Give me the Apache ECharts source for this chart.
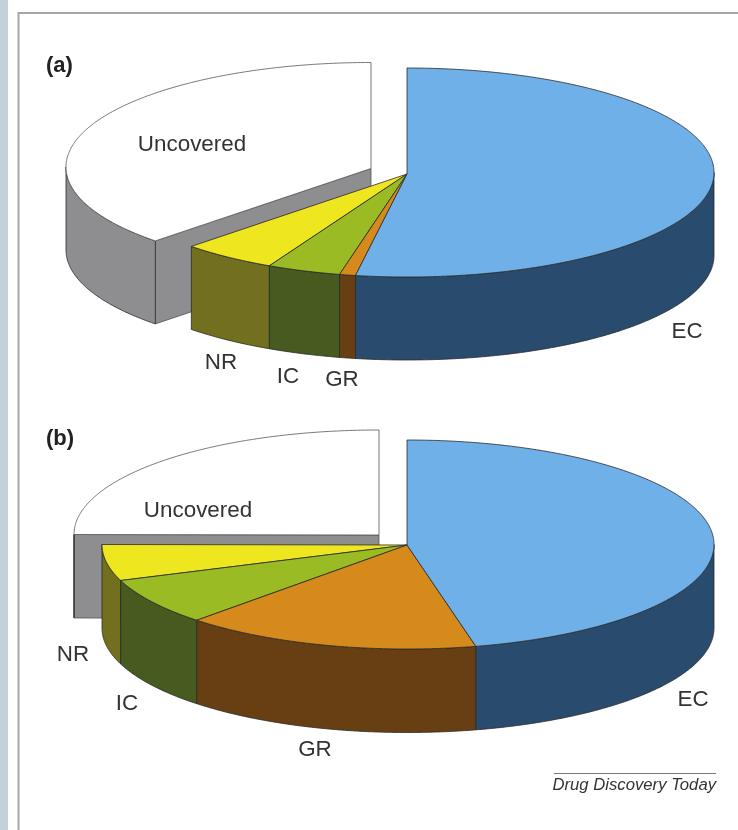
<!DOCTYPE html>
<html>
<head>
<meta charset="utf-8">
<style>html,body{margin:0;padding:0;background:#fff}#chart{width:738px;height:830px}</style>
<script src="https://cdn.jsdelivr.net/npm/echarts@6/dist/echarts.min.js"></script>
</head>
<body>
<div id="chart"></div>
<script>
// Share of each category, in percent, clockwise from twelve o'clock.
const categories = ['EC', 'GR', 'IC', 'NR', 'Uncovered'];
const valuesA = [52.7, 0.85, 3.9, 5.05, 37.5];
const valuesB = [46.4, 15.7, 7.3, 5.6, 25.0];

const topColors = ['#6FB0E8', '#D68A1C', '#9ABB24', '#EEE61E', '#FFFFFF'];
const wallColors = ['#294C6E', '#683F13', '#475A1F', '#72701F', '#8E8E91'];

// Projection of each tilted disc and where its labels sit.
const panels = [
  { values: valuesA, cx: 407, cy: 172.5, hubY: 174, rxRight: 307, rxLeft: 305, ry: 104.5, depth: 83, pull: [-36, -5.5], letter: '(a)', letterAt: [46, 66],
    labelAt: { EC: [687, 332], GR: [342, 380], IC: [288, 377], NR: [221, 363], Uncovered: [192, 145] } },
  { values: valuesB, cx: 407, cy: 544.5, hubY: 545, rxRight: 307, rxLeft: 305, ry: 104.5, depth: 83.5, pull: [-28, -10], letter: '(b)', letterAt: [46, 439],
    labelAt: { EC: [693, 700], GR: [315, 750], IC: [127, 704], NR: [73, 655], Uncovered: [198, 511] } }
];

const EDGE = '#2a2a2a';

function project(p, deg, ox, oy, drop) {
  const t = deg * Math.PI / 180;
  const s = Math.sin(t);
  return [p.cx + ox + (s < 0 ? p.rxLeft : p.rxRight) * s, p.cy + oy + drop - p.ry * Math.cos(t)];
}

function arc(p, from, to, ox, oy, drop) {
  const pts = [];
  const n = Math.max(2, Math.ceil(Math.abs(to - from) * 2));
  for (let i = 0; i <= n; i++) pts.push(project(p, from + (to - from) * i / n, ox, oy, drop));
  return pts;
}

function poly(points, fill, stroke, width) {
  return { type: 'polygon', shape: { points }, style: { fill, stroke, lineWidth: width, lineJoin: 'round' } };
}

function sliceSeries(p) {
  // Angular spans come from the running total of the values.
  let run = 0;
  const rows = categories.map((name, i) => {
    const start = run * 3.6;
    run += p.values[i];
    return { name, value: p.values[i], start, end: run * 3.6, i };
  });
  // Back-to-front painting order: the pulled slice first, then round to the front.
  const painted = rows.slice().reverse();
  return {
    type: 'custom',
    coordinateSystem: 'none',
    silent: true,
    animation: false,
    data: painted.map(r => ({ name: r.name, value: [r.value, r.start, r.end, r.i] })),
    renderItem(params, api) {
      const start = api.value(1);
      const end = api.value(2);
      const i = api.value(3);
      const name = categories[i];
      const pulled = name === 'Uncovered';
      const ox = pulled ? p.pull[0] : 0;
      const oy = pulled ? p.pull[1] : 0;
      const children = [];
      const hub = [p.cx + ox, p.hubY + oy];
      const hubLow = [hub[0], hub[1] + p.depth];
      const outline = pulled ? '#555' : EDGE;

      // Cut faces are only exposed on the slice that has been pulled away.
      if (pulled) {
        const a = project(p, start, ox, oy, 0);
        if (Math.sin(start * Math.PI / 180) < 0) {
          children.push(poly([hub, a, [a[0], a[1] + p.depth], hubLow], wallColors[i], outline, 0.8));
        }
      }
      // Outer rim: the part of the arc that faces the viewer (90 to 270 degrees).
      const from = Math.max(start, 90);
      const to = Math.min(end, 270);
      if (to > from) {
        const upper = arc(p, from, to, ox, oy, 0);
        const lower = arc(p, to, from, ox, oy, p.depth);
        children.push(poly(upper.concat(lower), wallColors[i], EDGE, 0.8));
      }
      // Top face.
      children.push(poly([hub].concat(arc(p, start, end, ox, oy, 0)), topColors[i], outline, 0.8));
      // Label.
      const at = p.labelAt[name];
      children.push({
        type: 'text', z2: 10,
        style: { x: at[0], y: at[1], text: name, fill: '#333', font: '22.4px "Liberation Sans", Arial, sans-serif', textAlign: 'center', textVerticalAlign: 'middle' }
      });
      return { type: 'group', children };
    }
  };
}

const frameLine = '#a6a6a6';
const graphicItems = [
  { type: 'rect', shape: { x: 0, y: 0, width: 8, height: 830 }, style: { fill: '#C3D1DA' } },
  { type: 'line', shape: { x1: 18.5, y1: 12, x2: 18.5, y2: 830 }, style: { stroke: frameLine, lineWidth: 2 } },
  { type: 'line', shape: { x1: 18, y1: 13, x2: 738, y2: 13 }, style: { stroke: frameLine, lineWidth: 2 } },
  { type: 'line', shape: { x1: 554, y1: 773.5, x2: 716, y2: 773.5 }, style: { stroke: '#555', lineWidth: 0.8 } },
  { type: 'text', style: { x: 716, y: 785, text: 'Drug Discovery Today', fill: '#333', font: 'italic 16.7px "Liberation Sans", Arial, sans-serif', textAlign: 'right', textVerticalAlign: 'middle' } }
];
panels.forEach(p => graphicItems.push({
  type: 'text',
  style: { x: p.letterAt[0], y: p.letterAt[1], text: p.letter, fill: '#222', font: 'bold 22px "Liberation Sans", Arial, sans-serif', textAlign: 'left', textVerticalAlign: 'middle' }
}));

const chart = echarts.init(document.getElementById('chart'), null, { renderer: 'canvas' });
chart.setOption({
  backgroundColor: '#fff',
  animation: false,
  graphic: graphicItems,
  series: panels.map(sliceSeries)
});
</script>
</body>
</html>
